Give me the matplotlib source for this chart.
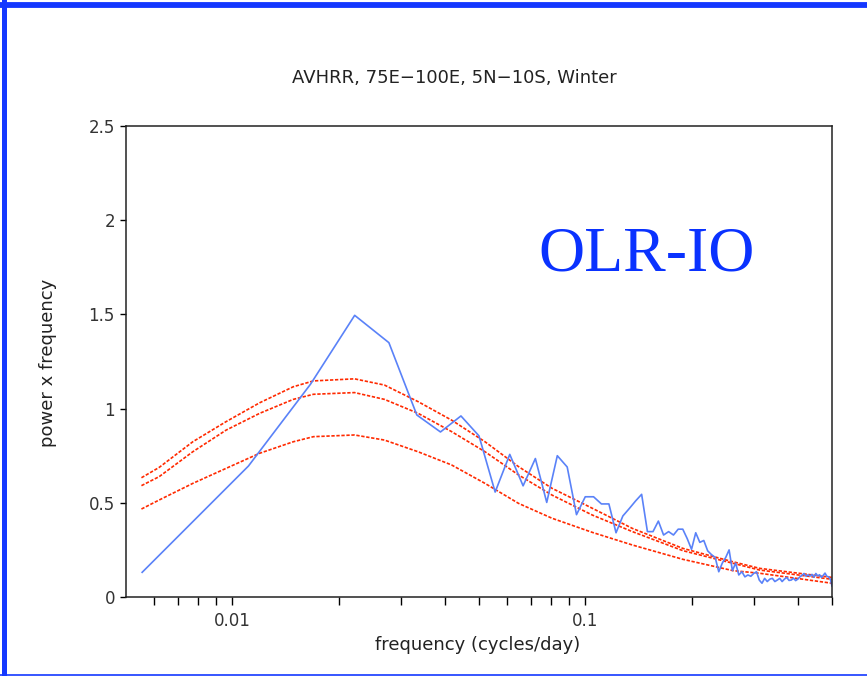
import matplotlib
matplotlib.use("Agg")
import matplotlib.pyplot as plt
from matplotlib.lines import Line2D
import numpy as np

# spectrum (frequency index k -> k/180 cycles/day)
n_days = 180
k = np.arange(1, 91)
power = [0.131, 0.695, 1.13, 1.495, 1.35, 0.966, 0.876, 0.961, 0.855, 0.557,
         0.757, 0.590, 0.735, 0.502, 0.750, 0.690, 0.437, 0.532, 0.532, 0.494,
         0.494, 0.341, 0.430, 0.470, 0.510, 0.545, 0.347, 0.347, 0.403, 0.329,
         0.347, 0.329, 0.360, 0.360, 0.310, 0.253, 0.341, 0.290, 0.300, 0.245,
         0.225, 0.210, 0.134, 0.180, 0.210, 0.250, 0.140, 0.180, 0.117, 0.134,
         0.107, 0.117, 0.110, 0.125, 0.134, 0.090, 0.073, 0.099, 0.082, 0.095,
         0.099, 0.082, 0.090, 0.099, 0.082, 0.095, 0.104, 0.088, 0.090, 0.100,
         0.087, 0.095, 0.107, 0.115, 0.125, 0.110, 0.118, 0.111, 0.120, 0.105,
         0.125, 0.112, 0.118, 0.104, 0.115, 0.127, 0.110, 0.107, 0.095, 0.058]
freq = k / n_days

# red noise spectrum and confidence levels
red_freq = [0.00553, 0.00621, 0.00773, 0.00961, 0.01196, 0.01489, 0.01698, 0.0222,
            0.02698, 0.0336, 0.0418, 0.0520, 0.0647, 0.0805, 0.1047, 0.136,
            0.189, 0.262, 0.312, 0.5]
red_hi = [0.633, 0.688, 0.824, 0.931, 1.031, 1.116, 1.147, 1.158, 1.125, 1.037,
          0.939, 0.824, 0.692, 0.577, 0.471, 0.364, 0.258, 0.187, 0.152, 0.104]
red_mid = [0.591, 0.639, 0.771, 0.886, 0.975, 1.049, 1.076, 1.085, 1.049, 0.975,
           0.878, 0.771, 0.648, 0.541, 0.435, 0.347, 0.246, 0.179, 0.143, 0.094]
red_lo = [0.467, 0.515, 0.603, 0.683, 0.763, 0.824, 0.851, 0.860, 0.833, 0.771,
          0.701, 0.603, 0.497, 0.418, 0.343, 0.276, 0.200, 0.140, 0.126, 0.073]

W, H = 867, 676
fig = plt.figure(figsize=(W / 100, H / 100), dpi=100)
ax = fig.add_axes([126 / W, 1 - 597 / H, (832 - 126) / W, (597 - 126) / H])

red = "#ff2a00"
for r in (red_hi, red_mid, red_lo):
    ax.plot(red_freq, r, color=red, lw=1.2, dashes=(2, 1))
ax.plot(freq, power, color="#5a82f8", lw=1.2)

ax.set_xscale("log")
ax.set_xlim(0.005, 0.5)
ax.set_ylim(0, 2.5)
ax.set_xticks([0.01, 0.1])
ax.set_xticklabels(["0.01", "0.1"])
minors = [m * d for d in (0.001, 0.01, 0.1) for m in range(2, 10)]
ax.set_xticks([m for m in minors if 0.0055 < m < 0.51 and m not in (0.01, 0.1)], minor=True)
ax.set_xticklabels([], minor=True)
ax.set_yticks([0, 0.5, 1, 1.5, 2, 2.5])
ax.set_yticklabels(["0", "0.5", "1", "1.5", "2", "2.5"])
ax.tick_params(axis="x", which="both", length=6, width=1, direction="out",
               labelsize=12, labelcolor="#333333", pad=5)
ax.tick_params(axis="y", length=4, width=1, labelsize=12, labelcolor="#333333", pad=4)
for s in ax.spines.values():
    s.set_color("#222222")
    s.set_linewidth(1.1)

fig.text(454 / W, 1 - 78 / H, "AVHRR, 75E\u2212100E, 5N\u221210S, Winter",
         ha="center", va="center", fontsize=13, color="#222222")
fig.text(478 / W, 1 - 645 / H, "frequency (cycles/day)",
         ha="center", va="center", fontsize=13, color="#222222")
fig.text(48 / W, 1 - 363 / H, "power x frequency", rotation=90,
         ha="center", va="center", fontsize=13, color="#222222")
fig.text(647 / W, 1 - 256 / H, "OLR-IO", ha="center", va="center",
         fontsize=46, color="#0a32ff", family="Liberation Serif")

# blue frame
frame = "#1438ff"
fig.add_artist(Line2D([0, 1], [1 - 4.5 / H, 1 - 4.5 / H], color=frame, lw=4.2,
                      transform=fig.transFigure))
fig.add_artist(Line2D([4 / W, 4 / W], [0, 1 - 2 / H], color=frame, lw=3.6,
                      transform=fig.transFigure))
fig.add_artist(Line2D([0, 1], [1.2 / H, 1.2 / H], color=frame, lw=1.2,
                      transform=fig.transFigure))

plt.savefig("out.png", dpi=100)
